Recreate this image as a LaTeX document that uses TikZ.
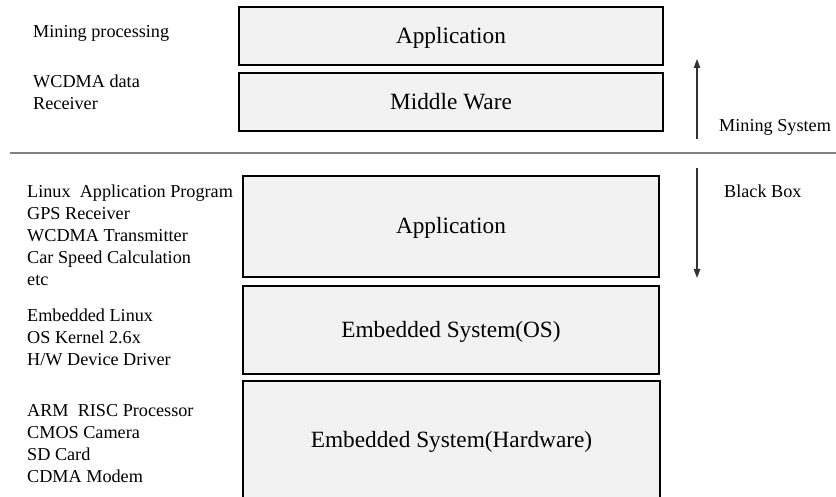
\documentclass[tikz,border=0pt]{standalone}
\usepackage{fontspec}
\setmainfont{Liberation Serif}
\usetikzlibrary{arrows.meta}
\begin{document}
\begin{tikzpicture}[x=1pt,y=1pt,
  layer/.style={draw=black,line width=1.8pt,fill=boxgray,inner sep=0pt,
    text height=15pt,text depth=0pt,font=\fontsize{23.3}{27}\selectfont},
  side/.style={anchor=base west,inner sep=0pt,font=\fontsize{18.2}{21}\selectfont},
  axis/.style={draw=black!80,line width=1.1pt,-{Triangle[length=9pt,width=6.5pt]}}]
\definecolor{boxgray}{HTML}{F2F2F2}
\useasboundingbox (0,0) rectangle (836,497);

% layer boxes
\node[layer,minimum width=424pt,minimum height=58pt] (app1) at (451,461) {Application};
\node[layer,minimum width=424pt,minimum height=58pt] (mw) at (451,395) {Middle Ware};
\node[layer,minimum width=416pt,minimum height=101pt] (app2) at (451,270.5) {Application};
\node[layer,minimum width=416pt,minimum height=88pt] (os) at (451,167) {Embedded System(OS)};
\node[layer,minimum width=417pt,minimum height=119pt] (hw) at (451.5,56.5) {Embedded System(Hardware)};

% separator between mining system and black box
\coordinate (sepL) at (10,344);
\coordinate (sepR) at (836,344);
\draw[draw=black!50,line width=2.4pt] (sepL) -- (sepR);

% direction arrows
\coordinate (upS) at (697,358);
\coordinate (upE) at (697,438);
\coordinate (dnS) at (697,329);
\coordinate (dnE) at (697,219);
\draw[axis] (upS) -- (upE);
\draw[axis] (dnS) -- (dnE);
\node[side] (ms) at (719,365) {Mining System};
\node[side] (bb) at (724,299) {Black Box};

% descriptions on the left
\node[side] (t1) at (33,459) {Mining processing};
\node[side] (t2) at (33,409) {WCDMA data};
\node[side] (t3) at (33,387) {Receiver};

\node[side] (t4) at (27,299) {Linux\ \ Application Program};
\node[side] (t5) at (27,277) {GPS Receiver};
\node[side] (t6) at (27,255) {WCDMA Transmitter};
\node[side] (t7) at (27,233) {Car Speed Calculation};
\node[side] (t8) at (27,211) {etc};

\node[side] (t9) at (27,175) {Embedded Linux};
\node[side] (t10) at (27,153) {OS Kernel 2.6x};
\node[side] (t11) at (27,131) {H/W Device Driver};

\node[side] (t12) at (27,80) {ARM\ \ RISC Processor};
\node[side] (t13) at (27,58) {CMOS Camera};
\node[side] (t14) at (27,36) {SD Card};
\node[side] (t15) at (27,14) {CDMA Modem};
\end{tikzpicture}
\end{document}
